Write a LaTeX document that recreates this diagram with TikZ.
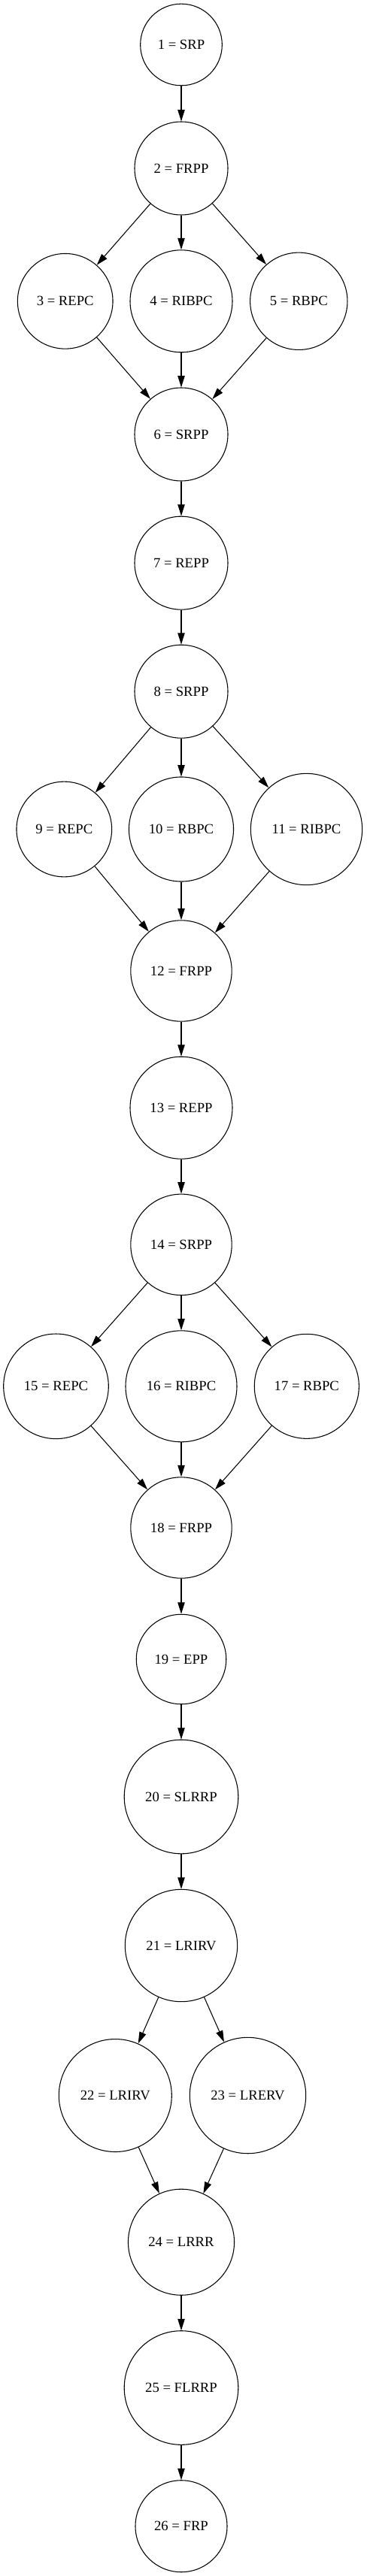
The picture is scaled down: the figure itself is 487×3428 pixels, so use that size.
\documentclass[tikz,border=0pt]{standalone}
\usepackage{fontspec}
\setmainfont{Liberation Serif}
\usetikzlibrary{arrows.meta}
\tikzset{>={Triangle[length=11.5pt,width=7pt]},every node/.style={font=\fontsize{14}{16}\selectfont},st/.style={circle,draw,inner sep=0pt,minimum size=#1},flow/.style={->}}

\begin{document}
\begin{tikzpicture}[x=.75pt,y=-.75pt,line width=.8pt]
\useasboundingbox (0,0) rectangle (487,3428);
\node[st=81.5pt] (s1) at (241,59.5){1 = SRP};
\node[st=93pt] (s2) at (241,224){2 = FRPP};
\node[st=95pt] (s3) at (86.7,400.8){3 = REPC};
\node[st=102pt] (s4) at (241,400.8){4 = RIBPC};
\node[st=97pt] (s5) at (397.3,400.8){5 = RBPC};
\node[st=93pt] (s6) at (241,578){6 = SRPP};
\node[st=93pt] (s7) at (241,749.2){7 = REPP};
\node[st=93pt] (s8) at (241,920.2){8 = SRPP};
\node[st=95pt] (s9) at (85.3,1103.5){9 = REPC};
\node[st=104.3pt] (s10) at (241,1103.5){10 = RBPC};
\node[st=111.2pt] (s11) at (407.5,1103.5){11 = RIBPC};
\node[st=100.8pt] (s12) at (241,1292){12 = FRPP};
\node[st=102pt] (s13) at (241,1474.2){13 = REPP};
\node[st=100.8pt] (s14) at (241,1656.3){14 = SRPP};
\node[st=104.7pt] (s15) at (74.5,1844.8){15 = REPC};
\node[st=111pt] (s16) at (241,1844.8){16 = RIBPC};
\node[st=104.3pt] (s17) at (407.8,1844.8){17 = RBPC};
\node[st=100.8pt] (s18) at (241,2033){18 = FRPP};
\node[st=89.6pt] (s19) at (241,2208){19 = EPP};
\node[st=113.7pt] (s20) at (241,2391){20 = SLRRP};
\node[st=112pt] (s21) at (241,2589){21 = LRIRV};
\node[st=112.5pt] (s22) at (153.3,2788.5){22 = LRIRV};
\node[st=115.8pt] (s23) at (329.5,2788.5){23 = LRERV};
\node[st=105.8pt] (s24) at (241,2983.7){24 = LRRR};
\node[st=113.7pt] (s25) at (241,3177.5){25 = FLRRP};
\node[st=91.5pt] (s26) at (241,3361.7){26 = FRP};

\foreach \a/\b in {1/2,2/3,2/4,2/5,3/6,4/6,5/6,6/7,7/8,8/9,8/10,8/11,9/12,10/12,11/12,12/13,13/14,
  14/15,14/16,14/17,15/18,16/18,17/18,18/19,19/20,20/21,21/22,21/23,22/24,23/24,24/25,25/26}
  \draw[flow] (s\a)--(s\b);
\end{tikzpicture}
\end{document}
